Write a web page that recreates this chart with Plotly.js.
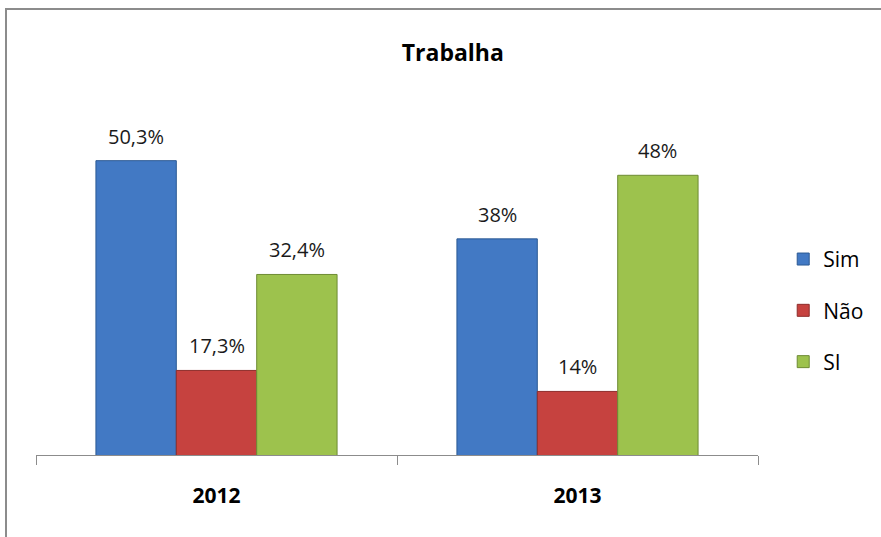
<!DOCTYPE html>
<html>
<head>
<meta charset="utf-8">
<script src="https://cdn.plot.ly/plotly-3.0.1.min.js"></script>
<style>
  html, body { margin: 0; padding: 0; background: #ffffff; overflow: hidden; }
  #wrap { position: relative; width: 881px; height: 537px; }
  #chart { position: absolute; left: 0; top: 0; width: 881px; height: 537px; }
  #frame { position: absolute; left: 5px; top: 8px; width: 1000px; height: 1000px;
           border-left: 2px solid #8c8c8c; border-top: 2px solid #8c8c8c; pointer-events: none; }
</style>
</head>
<body>
<div id="wrap">
  <div id="chart"></div>
  <div id="frame"></div>
</div>
<script>
const chartTitle = "Trabalha";
const years = ["2012", "2013"];
const seriesNames = ["Sim", "Não", "SI"];
const simValues = [50.3, 38];
const naoValues = [17.3, 14];
const siValues = [32.4, 48];
const simLabels = ["50,3%", "38%"];
const naoLabels = ["17,3%", "14%"];
const siLabels = ["32,4%", "48%"];

const colors = ["#4279c4", "#c6423f", "#9dc24d"];
const edges = ["#2c5a94", "#8e2d2b", "#6e8c34"];
const FONT = "Open Sans, Noto Sans, sans-serif";

const vals = [simValues, naoValues, siValues];
const labs = [simLabels, naoLabels, siLabels];

const W = 881, H = 537;
const margin = { l: 36, r: 123, t: 99, b: 82 };
const bargap = 0.332;
const plotW = W - margin.l - margin.r;
const barW = plotW / years.length * (1 - bargap) / seriesNames.length;

const traces = seriesNames.map((name, i) => ({
  type: "bar",
  name: name,
  x: years,
  y: vals[i],
  legendgroup: "g" + i,
  marker: { color: colors[i], line: { color: edges[i], width: 1 } },
  hoverinfo: "skip"
}));

const annotations = [];
seriesNames.forEach((name, i) => {
  years.forEach((yr, j) => {
    annotations.push({
      x: j, y: vals[i][j], xref: "x", yref: "y",
      text: labs[i][j], showarrow: false,
      xanchor: "center", yanchor: "bottom",
      xshift: (i - 1) * barW, yshift: 9,
      font: { family: FONT, size: 20, color: "#1a1a1a" }
    });
  });
});

const layout = {
  width: W,
  height: H,
  paper_bgcolor: "rgba(0,0,0,0)",
  plot_bgcolor: "rgba(0,0,0,0)",
  margin: margin,
  font: { family: FONT, color: "#000" },
  title: {
    text: "<b>" + chartTitle + "</b>",
    font: { family: FONT, size: 23, color: "#000" },
    xref: "container", yref: "container",
    x: 0.514, y: 0.902, xanchor: "center", yanchor: "middle"
  },
  barmode: "group",
  bargap: bargap,
  bargroupgap: 0,
  showlegend: true,
  legend: {
    xref: "container", yref: "container",
    x: 0.889, y: 0.422, xanchor: "left", yanchor: "middle",
    font: { family: FONT, size: 21, color: "#000" },
    traceorder: "grouped",
    tracegroupgap: 21,
    itemwidth: 30,
    bgcolor: "rgba(0,0,0,0)"
  },
  annotations: annotations,
  xaxis: {
    type: "category",
    categoryorder: "array", categoryarray: years,
    range: [-0.5, years.length - 0.5],
    showline: true, linecolor: "#8c8c8c", linewidth: 1,
    ticks: "outside", tickson: "boundaries", ticklen: 9, tickcolor: "#8c8c8c", tickwidth: 1,
    tickfont: { family: FONT, size: 21, color: "#000", weight: "bold" },
    ticklabelstandoff: 22,
    showgrid: false, zeroline: false, fixedrange: true
  },
  yaxis: {
    range: [4, 60],
    visible: false,
    showgrid: false, zeroline: false, fixedrange: true
  }
};

Plotly.newPlot("chart", traces, layout, { displayModeBar: false, staticPlot: true });
</script>
</body>
</html>
